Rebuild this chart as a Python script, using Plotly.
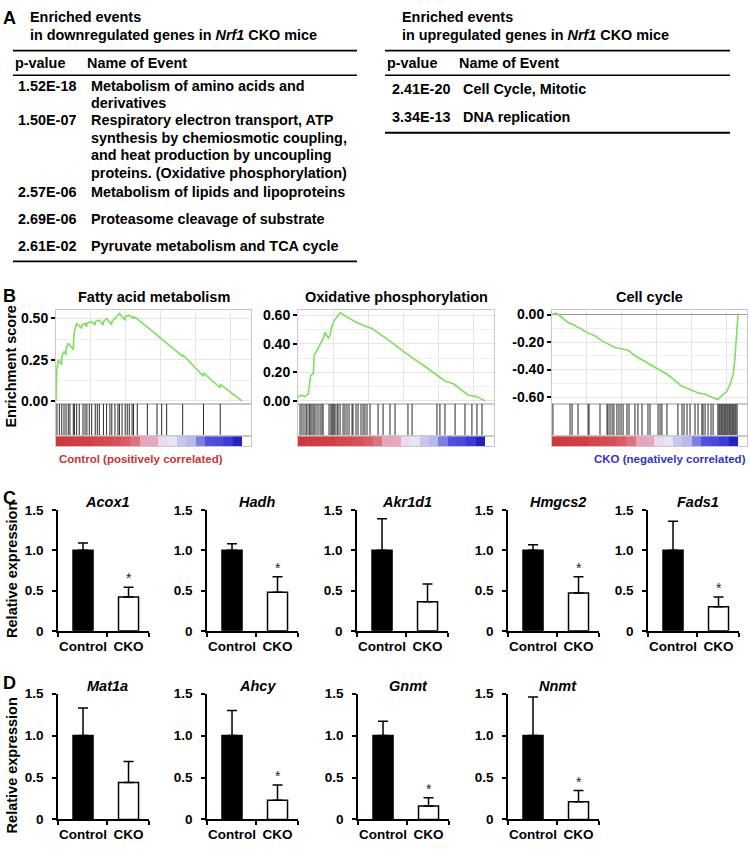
import plotly.graph_objects as go

W, H = 750, 852
FONT = "Liberation Sans, Arial, Helvetica, sans-serif"

# ---------------- Panel A data ----------------
down_title = ["Enriched events", "in downregulated genes in <i>Nrf1</i> CKO mice"]
down_pvalues = ["1.52E-18", "1.50E-07", "2.57E-06", "2.69E-06", "2.61E-02"]
down_events = [
    "Metabolism of amino acids and<br>derivatives",
    "Respiratory electron transport, ATP<br>synthesis by chemiosmotic coupling,<br>and heat production by uncoupling<br>proteins. (Oxidative phosphorylation)",
    "Metabolism of lipids and lipoproteins",
    "Proteasome cleavage of substrate",
    "Pyruvate metabolism and TCA cycle",
]
up_title = ["Enriched events", "in upregulated genes in <i>Nrf1</i> CKO mice"]
up_pvalues = ["2.41E-20", "3.34E-13"]
up_events = ["Cell Cycle, Mitotic", "DNA replication"]
table_headers = ["p-value", "Name of Event"]

# ---------------- Panel B data ----------------
gsea_titles = ["Fatty acid metabolism", "Oxidative phosphorylation", "Cell cycle"]

fa_rank = [0, 0.2, 0.4, 1.3, 3.0, 3.1, 4.3, 5.4, 5.5, 6.6, 9.3, 9.4, 9.9, 11.1, 13.8, 13.9,
           15.6, 16.5, 16.6, 19.2, 21.0, 21.1, 23.3, 25.4, 25.5, 27.2, 29.9, 30.0, 31.7, 34.1,
           37.1, 37.2, 39.4, 41.6, 41.7, 43.4, 68.1, 68.2, 79.2, 79.3, 88.2, 88.3, 100]
fa_es = [0, 0.16, 0.19, 0.25, 0.22, 0.27, 0.30, 0.28, 0.32, 0.35, 0.31, 0.36, 0.42, 0.47, 0.44, 0.46,
         0.47, 0.45, 0.47, 0.48, 0.46, 0.48, 0.49, 0.46, 0.48, 0.50, 0.46, 0.48, 0.50, 0.53,
         0.49, 0.51, 0.52, 0.50, 0.51, 0.50, 0.27, 0.28, 0.15, 0.17, 0.08, 0.10, 0.0]
fa_hits = [0.5, 1.8, 3.1, 4.3, 5.4, 6.6, 7.5, 9.3, 9.9, 11.1, 12.5, 14.5, 15.6, 16.6, 17.9, 19.2,
           21.1, 22.2, 23.3, 25.5, 27.2, 29.0, 30.0, 31.7, 33.3, 34.1, 35.5, 37.2, 38.3, 39.4,
           40.9, 41.7, 43.7, 49.1, 54.3, 56.8, 59.5, 68.1, 79.3, 88.3]

ox_rank = [0, 0.2, 2.0, 3.7, 5.5, 6.8, 8.2, 8.6, 10.0, 11.8, 13.5, 14.4, 16.2, 17.1, 18.0, 19.3,
           22.5, 26.0, 31.4, 36.7, 39.4, 49.2, 58.1, 67.0, 74.2, 78.6, 83.1, 91.1, 95.5, 98.2, 100]
ox_es = [0.03, 0.03, 0.04, 0.03, 0.05, 0.18, 0.19, 0.32, 0.35, 0.40, 0.44, 0.48, 0.44, 0.46, 0.52, 0.56,
         0.62, 0.59, 0.55, 0.52, 0.51, 0.42, 0.33, 0.25, 0.18, 0.14, 0.12, 0.04, 0.03, 0.01, 0.0]
ox_hits = [1.1, 2.1, 3.2, 4.3, 4.8, 5.9, 6.4, 7.0, 8.0, 8.6, 9.6, 10.7, 11.8, 12.8, 13.4, 16.6, 17.6,
           18.2, 18.7, 19.3, 19.8, 20.9, 21.4, 22.5, 24.1, 25.1, 26.2, 27.3, 28.9, 29.4, 31.0, 32.1,
           33.7, 34.8, 35.8, 36.9, 38.5, 42.8, 45.5, 49.2, 51.9, 58.8, 61.0, 74.3, 75.9, 78.6, 84.0,
           89.3, 93.0, 95.7, 98.4]

cc_rank = [0, 2.0, 3.4, 8.8, 12.4, 13.3, 15.1, 18.6, 23.1, 26.7, 33.9, 37.5, 41.0, 44.6, 53.6, 62.5,
           69.7, 73.3, 78.7, 82.3, 85.9, 89.1, 90.3, 92.1, 93.9, 95.7, 97.5, 98.4, 99.3, 100]
cc_es = [0, 0.01, 0.0, -0.06, -0.08, -0.09, -0.10, -0.13, -0.155, -0.19, -0.24, -0.25, -0.26, -0.30,
         -0.37, -0.44, -0.52, -0.54, -0.57, -0.58, -0.60, -0.62, -0.60, -0.58, -0.56, -0.51, -0.43,
         -0.31, -0.17, 0.0]
cc_hits = [0.5, 9.7, 10.8, 14.0, 19.4, 19.9, 25.8, 29.6, 30.1, 31.2, 32.3, 33.3, 34.9, 36.0, 37.1,
           38.2, 40.3, 41.4, 44.6, 46.2, 48.4, 51.6, 52.7, 57.0, 58.1, 59.1, 61.8, 67.7, 69.9, 71.0,
           72.6, 74.2, 76.9, 78.5, 80.6, 81.2, 82.3, 83.9, 85.5, 86.6, 89.2, 89.8, 90.3, 90.9, 91.4,
           91.9, 92.5, 93.0, 93.5, 94.1, 94.6, 95.2, 95.7, 96.2, 96.8, 97.3, 97.8, 98.4, 98.9, 99.5]

# ranked list metric (colour strip), 20 equal bins
ranked_metric_bins = [0.95, 0.92, 0.90, 0.88, 0.82, 0.78, 0.75, 0.68, 0.55, 0.30,
                      0.28, 0.05, 0.0, -0.20, -0.25, -0.45, -0.60, -0.65, -0.75, -0.95]

es_ticks = [[0, 0.25, 0.5], [0, 0.2, 0.4, 0.6], [-0.6, -0.4, -0.2, 0]]
es_minor = [[0.125, 0.375], [0.1, 0.3, 0.5], [-0.5, -0.3, -0.1]]
es_range = [[-0.018, 0.554], [-0.021, 0.641], [-0.65, 0.036]]

# ---------------- Panel C / D data ----------------
c_genes = ["Acox1", "Hadh", "Akr1d1", "Hmgcs2", "Fads1"]
c_ctrl = [1.0, 1.0, 1.0, 1.0, 1.0]
c_ctrl_err = [0.09, 0.08, 0.39, 0.07, 0.36]
c_cko = [0.42, 0.48, 0.36, 0.47, 0.30]
c_cko_err = [0.12, 0.19, 0.22, 0.20, 0.12]
c_sig = [True, True, False, True, True]

d_genes = ["Mat1a", "Ahcy", "Gnmt", "Nnmt"]
d_ctrl = [1.0, 1.0, 1.0, 1.0]
d_ctrl_err = [0.33, 0.30, 0.17, 0.46]
d_cko = [0.44, 0.23, 0.16, 0.21]
d_cko_err = [0.25, 0.18, 0.10, 0.135]
d_sig = [False, True, True, True]

groups = ["Control", "CKO"]
y_ticks = [0, 0.5, 1.0, 1.5]
y_ticktext = ["0", "0.5", "1.0", "1.5"]

# ---------------- helpers ----------------
fig = go.Figure()
layout = {}
ann = []
shapes = []
n_axes = [0]


def X(px):
    return px / W


def Y(py):
    return 1 - py / H


def new_axes(xdom, ydom, xopts, yopts):
    n_axes[0] += 1
    n = n_axes[0]
    sx = "" if n == 1 else str(n)
    layout["xaxis" + sx] = dict(domain=[X(xdom[0]), X(xdom[1])], anchor="y" + sx, **xopts)
    layout["yaxis" + sx] = dict(domain=[Y(ydom[1]), Y(ydom[0])], anchor="x" + sx, **yopts)
    return "x" + sx, "y" + sx


def text(x, y, s, size=14, xanchor="left", yanchor="middle", color="black",
         bold=True, textangle=0):
    if bold:
        s = "<b>" + s + "</b>"
    ann.append(dict(xref="paper", yref="paper", x=X(x), y=Y(y), text=s, showarrow=False,
                    xanchor=xanchor, yanchor=yanchor, textangle=textangle,
                    font=dict(family=FONT, size=size, color=color)))


def hline(x0, x1, y, w=1.8):
    shapes.append(dict(type="line", xref="paper", yref="paper", x0=X(x0), x1=X(x1),
                       y0=Y(y), y1=Y(y), line=dict(color="black", width=w)))


# ---------------- Panel A ----------------
text(9, 11, "A", size=18, xanchor="center")
LINE = 18
TS = 14.4


def table(x0, x1, title, pvals, events, row_y, px_x, name_x, bottom):
    text(x0 + 15, 10, title[0], size=TS)
    text(x0 + 15, 28, title[1], size=TS)
    hline(x0, x1, 44.5)
    text(x0, 57, table_headers[0], size=TS)
    text(name_x - 4, 57, table_headers[1], size=TS)
    hline(x0, x1, 69.5, 1.5)
    for p, ev, yy in zip(pvals, events, row_y):
        text(px_x, yy, p, size=TS)
        for k, line in enumerate(ev.split("<br>")):
            text(name_x, yy + k * LINE, line, size=TS)
    hline(x0, x1, bottom)


table(13, 357, down_title, down_pvalues, down_events, [80, 115, 188, 216, 243], 16, 89, 259)
table(385, 730, up_title, up_pvalues, up_events, [83, 112], 390, 461, 128)

# ---------------- Panel B ----------------
text(9, 294, "B", size=18, xanchor="center")
text(11, 366, "Enrichment score", size=14.5, xanchor="center", textangle=-90)

cscale = [[0, "#1c1cbe"], [0.1, "#3434d4"], [0.2, "#5050e0"], [0.3, "#8c8cea"],
          [0.4, "#c6c6f2"], [0.5, "#e8e4f6"], [0.6, "#f0b6d8"], [0.75, "#e07a86"],
          [0.9, "#d8464e"], [1, "#cf3038"]]

gsea_left = [56, 298, 552]
gsea_unit = [1.86, 1.87, 1.86]
curves = [(fa_rank, fa_es, fa_hits), (ox_rank, ox_es, ox_hits), (cc_rank, cc_es, cc_hits)]
ES_Y = (308, 404)
HIT_Y = (404, 437)
CB_Y = (437, 447)
XR = [0, 105]
nb = len(ranked_metric_bins)
bin_edges = [100.0 * i / nb for i in range(nb + 1)]

for i in range(3):
    L = gsea_left[i]
    R = L + gsea_unit[i] * XR[1]
    ranks, es, hits = curves[i]
    grid = "#e6e6e6"
    frame = "#c8c8c8"
    xa, ya = new_axes(
        (L, R), ES_Y,
        dict(range=XR, showgrid=True, gridcolor=grid, tick0=0, dtick=18.8, showticklabels=False,
             ticks="", showline=True, mirror=True, linecolor=frame, zeroline=False),
        dict(range=es_range[i], tickvals=es_ticks[i],
             ticktext=["<b>%.2f</b>" % v for v in es_ticks[i]],
             ticks="outside", ticklen=4, tickwidth=1.5, tickcolor="black",
             tickfont=dict(family=FONT, size=14, color="black"),
             showgrid=True, gridcolor=grid,
             minor=dict(tickvals=es_minor[i], showgrid=True, gridcolor="#efefef", ticks=""),
             showline=True, mirror=True, linecolor=frame,
             zeroline=(i == 2), zerolinecolor="#9a9a9a", zerolinewidth=1))
    fig.add_trace(go.Scatter(x=ranks, y=es, mode="lines", xaxis=xa, yaxis=ya,
                             line=dict(color="#7ee05a", width=1.6), hoverinfo="skip"))
    text((L + R) / 2, 295, gsea_titles[i], size=14.5, xanchor="center")

    xh, yh = new_axes(
        (L, R), HIT_Y,
        dict(range=XR, showgrid=False, showticklabels=False, ticks="", showline=True,
             mirror=True, linecolor=frame, zeroline=False),
        dict(range=[0, 1], showgrid=False, showticklabels=False, ticks="", showline=True,
             mirror=True, linecolor=frame, zeroline=False))
    hx, hy = [], []
    for h in hits:
        hx += [h, h, None]
        hy += [0, 1, None]
    fig.add_trace(go.Scatter(x=hx, y=hy, mode="lines", xaxis=xh, yaxis=yh,
                             line=dict(color="#2a2a2a", width=1), hoverinfo="skip"))

    xc, yc = new_axes(
        (L, R), CB_Y,
        dict(range=XR, showgrid=False, showticklabels=False, ticks="", showline=True,
             mirror=True, linecolor=frame, zeroline=False),
        dict(range=[0, 1], showgrid=False, showticklabels=False, ticks="", showline=True,
             mirror=True, linecolor=frame, zeroline=False))
    fig.add_trace(go.Heatmap(z=[ranked_metric_bins], x=bin_edges, y=[0, 1], zmin=-1, zmax=1,
                             colorscale=cscale, showscale=False, xaxis=xc, yaxis=yc,
                             hoverinfo="skip"))

text(57, 460, "Control (positively correlated)", size=11.5, color="#cc3333")
text(748, 460, "CKO (negatively correlated)", size=11.5, color="#3333cc", xanchor="right")

# ---------------- Panels C / D ----------------
bar_left_c = [58, 207, 357, 508, 648]
bar_left_d = [58, 207, 358, 508]
BAR_W = 91


def bar_panel(L, ytop, ybot, gene, ctrl, ce, cko, ke, sig, title_y):
    xa, ya = new_axes(
        (L, L + BAR_W), (ytop, ybot),
        dict(range=[-0.55, 1.45], tickvals=[0, 1], ticktext=["<b>%s</b>" % g for g in groups],
             ticks="", showline=True, linecolor="black", linewidth=1.5, showgrid=False,
             zeroline=False, tickfont=dict(family=FONT, size=13.5, color="black"),
             ticklabelstandoff=2,
             minor=dict(tickvals=[-0.55, 0.52, 1.45], ticks="outside", ticklen=4,
                        tickcolor="black", tickwidth=1.5, showgrid=False)),
        dict(range=[0, 1.5], tickvals=y_ticks, ticktext=["<b>%s</b>" % t for t in y_ticktext],
             ticks="outside", ticklen=4, tickwidth=1.5, tickcolor="black", showline=True,
             linecolor="black", linewidth=1.5, showgrid=False, zeroline=False,
             ticklabelstandoff=6, tickfont=dict(family=FONT, size=13.5, color="black")))
    fig.add_trace(go.Bar(x=[0, 1], y=[ctrl, cko], width=0.44, xaxis=xa, yaxis=ya,
                         marker=dict(color=["black", "white"], line=dict(color="black", width=1.5)),
                         error_y=dict(type="data", array=[ce, ke], arrayminus=[0, 0],
                                      symmetric=False, color="black", thickness=1.5, width=5),
                         hoverinfo="skip"))
    if sig:
        ann.append(dict(xref=xa, yref=ya, x=1, y=cko + ke, text="*", showarrow=False,
                        yanchor="bottom", yshift=-1,
                        font=dict(family=FONT, size=14, color="#222")))
    text(L + 50, title_y, "<i>%s</i>" % gene, size=14.5, xanchor="center")


text(9, 500, "C", size=18, xanchor="center")
text(12, 573, "Relative expression", size=14.5, xanchor="center", textangle=-90)
for k in range(len(c_genes)):
    bar_panel(bar_left_c[k], 512, 635, c_genes[k], c_ctrl[k], c_ctrl_err[k], c_cko[k],
              c_cko_err[k], c_sig[k], 504)

text(9, 688, "D", size=18, xanchor="center")
text(12, 772, "Relative expression", size=14.5, xanchor="center", textangle=-90)
for k in range(len(d_genes)):
    bar_panel(bar_left_d[k], 699, 827, d_genes[k], d_ctrl[k], d_ctrl_err[k], d_cko[k],
              d_cko_err[k], d_sig[k], 691)

layout.update(dict(width=W, height=H, margin=dict(l=0, r=0, t=0, b=0),
                   paper_bgcolor="white", plot_bgcolor="white", showlegend=False,
                   barmode="overlay", font=dict(family=FONT, color="black"),
                   annotations=ann, shapes=shapes))
fig.update_layout(**layout)
fig.write_html("out.html", config={"displayModeBar": False},
               post_script="document.body.style.margin='0px';")
